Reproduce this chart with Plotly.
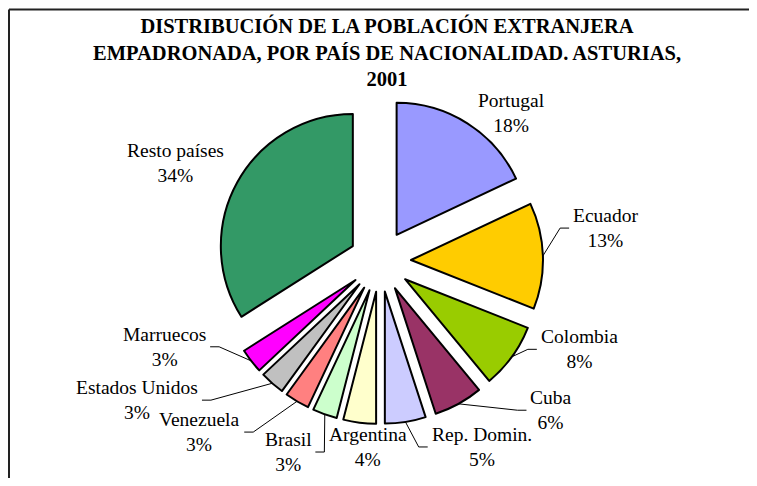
import math
import plotly.graph_objects as go

# ---------------- data ----------------
title_lines = ["DISTRIBUCIÓN DE LA POBLACIÓN EXTRANJERA",
               "EMPADRONADA, POR PAÍS DE NACIONALIDAD. ASTURIAS,",
               "2001"]
countries = ["Portugal", "Ecuador", "Colombia", "Cuba", "Rep. Domin.", "Argentina",
             "Brasil", "Venezuela", "Estados Unidos", "Marruecos", "Resto países"]
shares = [18, 13, 8, 6, 5, 4, 3, 3, 3, 3, 34]

# ---------------- style / layout ----------------
colors = ["#9999FF", "#FFCC00", "#99CC00", "#993366", "#CCCCFF", "#FFFFCC",
          "#CCFFCC", "#FF8080", "#C0C0C0", "#FF00FF", "#339966"]
# label placement: (angle clockwise from 12 o'clock in degrees, distance in px from pie centre)
label_polar = [(41.5, 198), (81.7, 228), (113.9, 218), (131.1, 227), (151.3, 212),
               (183.7, 186), (205.7, 212), (226.6, 249), (240.2, 280), (248.3, 232),
               (295.6, 227)]
leader = [False, True, True, True, True, False, True, True, True, True, False]

# the browser body keeps an 8px margin, so the figure is sized to fit inside the window
W, H = 749, 470
CX, CY = 372, 253        # pie centre in figure pixels
R_OUT = 132              # slice radius
PULL_PX = 31             # explosion distance
TITLE_X, TITLE_Y = 379, 44
FONT = "Liberation Serif"
LSIZE = 19.5

pull = PULL_PX / R_OUT
half = R_OUT + PULL_PX


def px(x):
    return x / W


def py(y):
    return 1 - y / H


# approximate Times / Liberation Serif advance widths (per 1000 em)
TW = {'A': 722, 'B': 667, 'C': 667, 'D': 722, 'E': 611, 'F': 556, 'G': 722, 'H': 722,
      'I': 333, 'J': 389, 'K': 722, 'L': 611, 'M': 889, 'N': 722, 'O': 722, 'P': 556,
      'Q': 722, 'R': 667, 'S': 556, 'T': 611, 'U': 722, 'V': 722, 'W': 944, 'X': 722,
      'Y': 722, 'Z': 611, 'a': 444, 'b': 500, 'c': 444, 'd': 500, 'e': 444, 'f': 333,
      'g': 500, 'h': 500, 'i': 278, 'í': 278, 'j': 278, 'k': 500, 'l': 278, 'm': 778,
      'n': 500, 'o': 500, 'p': 500, 'q': 500, 'r': 333, 's': 389, 't': 278, 'u': 500,
      'v': 500, 'w': 722, 'x': 500, 'y': 500, 'z': 444, ' ': 250, '.': 250, '%': 833}


def text_w(s, size):
    return sum(TW.get(ch, 500) for ch in s) * size / 1000


fig = go.Figure(go.Pie(
    labels=countries, values=shares, sort=False, direction="clockwise", rotation=0,
    marker=dict(colors=colors, line=dict(color="black", width=2)),
    pull=[pull] * len(shares),
    textinfo="none", automargin=False,
    hoverinfo="label+percent",
    showlegend=False,
    domain=dict(x=[px(CX - half), px(CX + half)], y=[py(CY + half), py(CY - half)]),
))

total = sum(shares)
annotations = []
shapes = []
cum = 0
for name, v, (ang, dist), has_leader in zip(countries, shares, label_polar, leader):
    pct = f"{round(100 * v / total)}%"
    mid = (cum + v / 2) / total * 2 * math.pi
    cum += v
    a = math.radians(ang)
    lx = CX + dist * math.sin(a)
    ly = CY - dist * math.cos(a)
    annotations.append(dict(
        x=px(lx), y=py(ly), xref="paper", yref="paper",
        text=f"{name}<br>{pct}", showarrow=False, align="center",
        xanchor="center", yanchor="middle",
        font=dict(family=FONT, size=LSIZE, color="black")))
    if has_leader:
        sx = CX + half * math.sin(mid)
        sy = CY - half * math.cos(mid)
        w = max(text_w(name, LSIZE), text_w(pct, LSIZE))
        side = 1 if lx > sx else -1
        ex = lx - side * (w / 2 + 4)
        elx = ex - side * 9
        path = f"M {px(sx)} {py(sy)} L {px(elx)} {py(ly)} L {px(ex)} {py(ly)}"
        shapes.append(dict(type="path", xref="paper", yref="paper", path=path,
                           line=dict(color="black", width=1)))

annotations.append(dict(
    x=px(TITLE_X), y=py(TITLE_Y), xref="paper", yref="paper",
    text="<b>" + "<br>".join(title_lines) + "</b>", showarrow=False,
    align="center", xanchor="center", yanchor="middle",
    font=dict(family=FONT, size=20.5, color="black")))

# chart-area frame: only the top and left edges are visible in the reference
frame = dict(color="#222222", width=2)
shapes.append(dict(type="line", xref="paper", yref="paper",
                   x0=px(1), x1=1.02, y0=py(1.5), y1=py(1.5), line=frame))
shapes.append(dict(type="line", xref="paper", yref="paper",
                   x0=px(1), x1=px(1), y0=py(1.5), y1=-0.02, line=frame))

fig.update_layout(
    width=W, height=H,
    margin=dict(l=0, r=0, t=0, b=0, autoexpand=False),
    paper_bgcolor="white",
    annotations=annotations,
    shapes=shapes,
)

fig.write_html("out.html")
